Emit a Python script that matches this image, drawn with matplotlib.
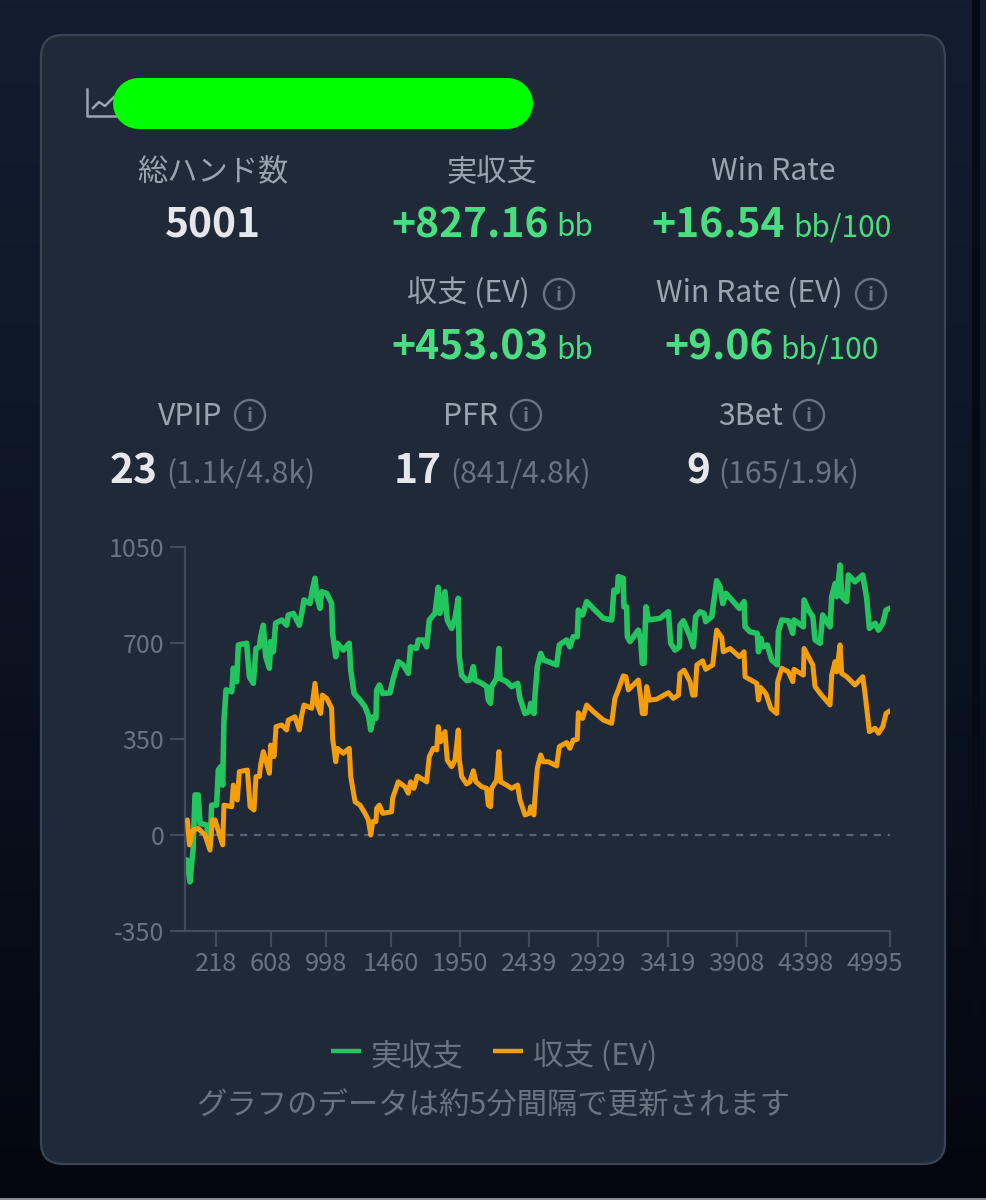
import matplotlib
matplotlib.use('Agg')
import matplotlib.pyplot as plt
import matplotlib.transforms as mtrans
from matplotlib.colors import LinearSegmentedColormap
from matplotlib.patches import FancyBboxPatch, Circle
import numpy as np

plt.rcParams['font.family'] = ['Noto Sans CJK JP', 'DejaVu Sans']
plt.rcParams['axes.unicode_minus'] = False

# hands played / bb won
real_hands = [14, 35, 57, 71, 94, 106, 154, 177, 189, 224, 236, 253, 267, 276, 291, 331, 342, 366, 378, 437,
              456, 484, 503, 527, 536, 555, 572, 598, 607, 626, 642, 685, 720, 732, 768, 810, 827, 843, 886, 902,
              921, 933, 957, 968, 1004, 1039, 1046, 1068, 1079, 1122, 1164, 1174, 1198, 1240, 1275, 1299, 1316, 1335, 1353, 1358,
              1377, 1401, 1452, 1476, 1511, 1546, 1582, 1598, 1641, 1653, 1688, 1712, 1731, 1771, 1794, 1806, 1842, 1858, 1889, 1913,
              1936, 1943, 1960, 1995, 2019, 2043, 2054, 2102, 2137, 2149, 2165, 2172, 2208, 2224, 2231, 2279, 2314, 2357, 2373, 2409,
              2439, 2449, 2472, 2479, 2496, 2520, 2539, 2574, 2633, 2652, 2704, 2727, 2751, 2779, 2787, 2817, 2846, 2893, 2964, 3023,
              3039, 3063, 3070, 3105, 3110, 3129, 3134, 3153, 3212, 3228, 3240, 3252, 3266, 3283, 3366, 3425, 3441, 3472, 3503, 3507,
              3531, 3578, 3602, 3618, 3649, 3677, 3689, 3732, 3748, 3767, 3791, 3810, 3833, 3874, 3928, 3961, 3968, 4003, 4055, 4063,
              4079, 4093, 4126, 4157, 4197, 4204, 4228, 4275, 4306, 4315, 4381, 4386, 4417, 4448, 4464, 4500, 4518, 4570, 4582, 4606,
              4618, 4641, 4653, 4688, 4700, 4747, 4802, 4830, 4849, 4889, 4913, 4944, 4967, 4995]
real_bb = [-91, -171, -55, 146, 146, 43, 36, -36, 109, 109, 237, 249, 182, 419, 529, 522, 608, 559, 693, 699,
           577, 553, 680, 686, 723, 765, 650, 608, 705, 668, 772, 784, 765, 802, 808, 765, 808, 857, 844, 893,
           936, 869, 826, 887, 881, 844, 735, 650, 699, 674, 699, 601, 516, 492, 468, 437, 383, 431, 425, 529,
           547, 516, 518, 571, 632, 620, 589, 686, 680, 711, 711, 686, 784, 808, 903, 808, 887, 784, 753, 790,
           863, 650, 583, 563, 565, 614, 565, 553, 541, 492, 480, 541, 571, 680, 571, 559, 541, 553, 498, 443,
           450, 480, 443, 504, 614, 662, 638, 632, 620, 693, 711, 686, 723, 723, 820, 802, 851, 826, 790, 784,
           893, 887, 942, 936, 832, 832, 723, 705, 747, 711, 626, 626, 832, 784, 790, 814, 699, 674, 686, 765,
           781, 723, 686, 796, 814, 808, 778, 796, 857, 927, 905, 844, 881, 857, 826, 851, 759, 741, 735, 668,
           717, 686, 693, 638, 620, 741, 784, 781, 735, 784, 759, 857, 820, 796, 711, 699, 802, 759, 869, 917,
           869, 984, 869, 851, 948, 923, 948, 863, 753, 772, 747, 772, 820, 827]

ev_hands = [17, 31, 59, 94, 142, 177, 194, 213, 248, 267, 276, 331, 342, 371, 385, 442, 461, 489, 503, 527,
            536, 555, 579, 598, 607, 631, 645, 685, 720, 732, 779, 810, 827, 843, 898, 921, 938, 961, 973, 1004,
            1039, 1046, 1068, 1079, 1122, 1164, 1174, 1205, 1240, 1275, 1299, 1316, 1330, 1353, 1358, 1377, 1401, 1464, 1471, 1511,
            1558, 1582, 1598, 1622, 1646, 1712, 1731, 1759, 1783, 1794, 1811, 1842, 1858, 1889, 1913, 1936, 1943, 1960, 1995, 2019,
            2043, 2061, 2102, 2137, 2149, 2165, 2172, 2208, 2224, 2236, 2279, 2314, 2357, 2373, 2409, 2439, 2449, 2472, 2479, 2496,
            2520, 2539, 2574, 2633, 2652, 2704, 2727, 2751, 2779, 2787, 2817, 2846, 2893, 2964, 3023, 3046, 3070, 3105, 3124, 3141,
            3212, 3228, 3240, 3261, 3271, 3290, 3342, 3425, 3460, 3496, 3507, 3536, 3578, 3597, 3614, 3626, 3668, 3689, 3739, 3767,
            3803, 3814, 3862, 3928, 3961, 3968, 4051, 4063, 4079, 4117, 4150, 4192, 4199, 4228, 4275, 4306, 4315, 4381, 4386, 4417,
            4448, 4464, 4500, 4570, 4582, 4606, 4618, 4641, 4653, 4688, 4747, 4802, 4818, 4849, 4889, 4913, 4944, 4967, 4995]
ev_bb = [55, -36, 18, 24, 0, -55, 55, 55, -6, -36, 109, 103, 182, 128, 231, 237, 103, 91, 213, 213,
         255, 304, 261, 225, 328, 286, 395, 401, 383, 419, 431, 383, 437, 474, 462, 553, 474, 443, 510, 498,
         462, 352, 267, 316, 298, 316, 213, 121, 109, 79, 55, 0, 49, 49, 97, 109, 79, 85, 134, 194,
         176, 152, 194, 170, 215, 194, 286, 316, 310, 395, 340, 377, 273, 249, 273, 383, 279, 213, 186, 194,
         234, 194, 176, 170, 109, 103, 170, 200, 304, 194, 182, 170, 182, 128, 73, 79, 103, 73, 134, 243,
         292, 267, 267, 252, 322, 337, 316, 346, 349, 446, 425, 474, 450, 419, 407, 498, 529, 580, 577, 529,
         565, 504, 443, 443, 541, 492, 495, 519, 498, 510, 589, 601, 559, 510, 510, 620, 635, 604, 620, 747,
         720, 668, 680, 650, 668, 577, 553, 492, 538, 514, 462, 443, 559, 608, 595, 559, 604, 583, 680, 650,
         620, 541, 516, 474, 583, 632, 595, 693, 589, 577, 547, 577, 516, 377, 389, 371, 395, 443, 453]

y_ticks = [-350, 0, 350, 700, 1050]
x_ticks = [218, 608, 998, 1460, 1950, 2439, 2929, 3419, 3908, 4398, 4995]

GREEN = "#22c55e"
ORANGE = "#f59e0b"
VALUE_GREEN = "#4ade80"
LABEL = "#9ca3af"
MUTED = "#6b7280"
WHITE = "#e5e7eb"
AXIS = "#434c5c"

W, H = 986, 1200
fig = plt.figure(figsize=(W / 100, H / 100), dpi=100)

# whole picture in pixel coordinates for the card and the stat texts
bg = fig.add_axes([0, 0, 1, 1])
bg.set_xlim(0, W)
bg.set_ylim(H, 0)
bg.axis('off')

cmap = LinearSegmentedColormap.from_list("page", ["#141d30", "#0f1828", "#090f1c", "#04070f"])
grad = np.linspace(0, 1, 256).reshape(-1, 1)
bg.imshow(grad, cmap=cmap, extent=[0, W, H, 0], aspect='auto', zorder=0)
bg.fill_between([972, 980], 0, 1015, color="#060b16", lw=0, zorder=1)
bg.fill_between([0, W], 1198, 1200, color="#8a8d94", lw=0, zorder=1)

bg.add_patch(FancyBboxPatch((41, 35), 904, 1129, boxstyle="round,pad=0,rounding_size=22",
                            fc="#1f2937", ec="#3a4454", lw=1.6, zorder=2))

# chart icon, mostly hidden by the green blob
bg.plot([87, 87, 116], [89, 116, 116], color=LABEL, lw=1.8, zorder=3)
bg.plot([93, 99, 105, 114], [108, 102, 106, 97], color=LABEL, lw=1.8, zorder=3)
bg.plot([138, 506.5], [103, 103], color="#00ff00", lw=36.7, solid_capstyle='round', zorder=4)


def put(x, y, s, size, color, ha='center', weight='normal'):
    bg.text(x, y, s, fontsize=size, color=color, ha=ha, va='baseline', fontweight=weight, zorder=5)


def info(x, y):
    bg.add_patch(Circle((x, y), 15, fc='none', ec=MUTED, lw=1.7, zorder=5))
    bg.text(x, y + 7, "i", fontsize=14, color=MUTED, ha='center', va='baseline', fontweight='bold', zorder=5)


LABEL_SIZE = 21.8
VALUE_SIZE = 29.3
UNIT_SIZE = 21.5
COUNT_SIZE = 21.7

put(213, 181, "総ハンド数", LABEL_SIZE, LABEL)
put(492, 181, "実収支", LABEL_SIZE, LABEL)
put(773, 180, "Win Rate", LABEL_SIZE, LABEL)
put(213, 237, "5001", VALUE_SIZE, WHITE, weight='bold')
put(549, 237, "+827.16", VALUE_SIZE, VALUE_GREEN, ha='right', weight='bold')
put(556, 236, "bb", UNIT_SIZE, VALUE_GREEN, ha='left')
put(785, 237, "+16.54", VALUE_SIZE, VALUE_GREEN, ha='right', weight='bold')
put(793, 236, "bb/100", UNIT_SIZE, VALUE_GREEN, ha='left')

put(530, 302, "収支 (EV)", LABEL_SIZE, LABEL, ha='right')
info(559, 294)
put(843, 302, "Win Rate (EV)", LABEL_SIZE, LABEL, ha='right')
info(871, 294)
put(549, 360, "+453.03", VALUE_SIZE, VALUE_GREEN, ha='right', weight='bold')
put(556, 359, "bb", UNIT_SIZE, VALUE_GREEN, ha='left')
put(774, 360, "+9.06", VALUE_SIZE, VALUE_GREEN, ha='right', weight='bold')
put(780, 359, "bb/100", UNIT_SIZE, VALUE_GREEN, ha='left')

put(222, 425, "VPIP", LABEL_SIZE, LABEL, ha='right')
info(250, 415)
put(498, 425, "PFR", LABEL_SIZE, LABEL, ha='right')
info(526, 415)
put(783, 425, "3Bet", LABEL_SIZE, LABEL, ha='right')
info(809, 415)

put(158, 483, "23", VALUE_SIZE, WHITE, ha='right', weight='bold')
put(166, 483, "(1.1k/4.8k)", COUNT_SIZE, MUTED, ha='left')
put(442, 483, "17", VALUE_SIZE, WHITE, ha='right', weight='bold')
put(450, 483, "(841/4.8k)", COUNT_SIZE, MUTED, ha='left')
put(710, 483, "9", VALUE_SIZE, WHITE, ha='right', weight='bold')
put(718, 483, "(165/1.9k)", COUNT_SIZE, MUTED, ha='left')

# legend and footnote
bg.plot([331, 361], [1051, 1051], color=GREEN, lw=3.2, solid_capstyle='butt', zorder=5)
put(370, 1065, "実収支", 22.3, MUTED, ha='left')
bg.plot([493, 523], [1051, 1051], color=ORANGE, lw=3.2, solid_capstyle='butt', zorder=5)
put(533, 1065, "収支 (EV)", 22, MUTED, ha='left')
put(493, 1115, "グラフのデータは約5分間隔で更新されます", 21.9, MUTED)

# the chart itself
ax = fig.add_axes([185 / W, 1 - 931 / H, (890 - 185) / W, (931 - 547) / H])
ax.patch.set_alpha(0)
ax.set_xlim(0, 4995)
ax.set_ylim(-350, 1050)
for side in ['top', 'right']:
    ax.spines[side].set_visible(False)
for side in ['left', 'bottom']:
    ax.spines[side].set_color(AXIS)
    ax.spines[side].set_linewidth(1.6)

ax.set_yticks(y_ticks)
ax.set_xticks(x_ticks)
ax.tick_params(axis='y', length=11, width=1.6, color=AXIS, labelcolor=MUTED, labelsize=18, pad=4)
ax.tick_params(axis='x', length=11.5, width=1.6, color=AXIS, labelcolor=MUTED, labelsize=18.3, pad=3)

# last label sits left of its tick, as in the web chart
last = ax.get_xticklabels()[-1]
last.set_transform(last.get_transform() + mtrans.ScaledTranslation(-0.15, 0, fig.dpi_scale_trans))

ax.axhline(0, color="#596273", lw=1.6, dashes=(3.2, 3.0), zorder=1)
ax.plot(real_hands, real_bb, color=GREEN, lw=4.0, solid_joinstyle='round', solid_capstyle='round', zorder=2)
ax.plot(ev_hands, ev_bb, color=ORANGE, lw=3.6, solid_joinstyle='round', solid_capstyle='round', zorder=3)

plt.savefig("out.png", dpi=100)
